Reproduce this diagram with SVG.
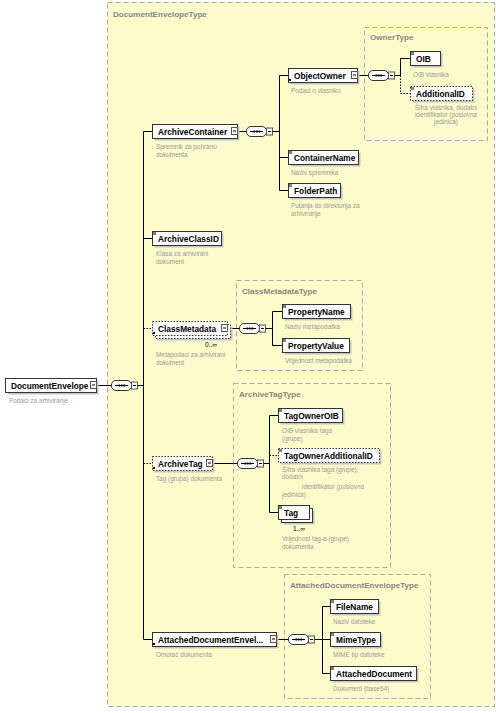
<svg xmlns="http://www.w3.org/2000/svg" xmlns:xlink="http://www.w3.org/1999/xlink" width="496" height="713" viewBox="0 0 496 713">
<style>
.type{fill:#fdfbca;stroke:#a8a8a8;stroke-width:1;stroke-dasharray:5,3}
.ttl{font-family:"Liberation Sans",Arial,sans-serif;font-weight:bold;font-size:8.1px;fill:#858585}
.box{fill:#fff;stroke:#333;stroke-width:1}
.opt{fill:#fff;stroke:#333;stroke-width:1;stroke-dasharray:1.5,1.5}
.sh{fill:#c4c4c4}
.lbl{font-family:"Liberation Sans",Arial,sans-serif;font-weight:bold;font-size:8.3px;fill:#000}
.dsc{font-family:"Liberation Sans",Arial,sans-serif;font-size:6.4px;fill:#9a9a9a}
.occ{font-family:"Liberation Sans",Arial,sans-serif;font-size:6.6px;fill:#000}
.ln{stroke:#000;stroke-width:1;fill:none}
.dl{stroke:#000;stroke-width:1;fill:none;stroke-dasharray:1.5,1.5}
.mk{fill:#808080}
.cm{fill:#000}
</style>
<defs>
<g id="minus"><rect x="0.5" y="0.5" width="6" height="7" fill="#fff" stroke="#555"/><line x1="2" y1="4" x2="5" y2="4" stroke="#000"/></g>
<g id="seq">
<rect x="0.5" y="-4.5" width="20" height="10" rx="4.5" fill="#fff" stroke="#333"/>
<line x1="4" y1="0.5" x2="17" y2="0.5" stroke="#000"/>
<rect x="7.5" y="-0.5" width="1.6" height="2" fill="#000"/><rect x="10" y="-0.5" width="1.6" height="2" fill="#000"/><rect x="12.5" y="-0.5" width="1.6" height="2" fill="#000"/>
<rect x="20.5" y="-3" width="6" height="7" fill="#fff" stroke="#555"/><line x1="22" y1="0.5" x2="25" y2="0.5" stroke="#000"/>
</g>
</defs>

<g id="DocumentEnvelopeType">
<rect class="type" x="107.5" y="2.5" width="387" height="704"/>
<text class="ttl" x="113" y="17">DocumentEnvelopeType</text>
</g>
<g id="OwnerType">
<rect class="type" x="364.5" y="27.5" width="123" height="113"/>
<text class="ttl" x="370" y="40">OwnerType</text>
</g>
<g id="ClassMetadataType">
<rect class="type" x="236.5" y="280.5" width="126" height="90"/>
<text class="ttl" x="242" y="294">ClassMetadataType</text>
</g>
<g id="ArchiveTagType">
<rect class="type" x="233.5" y="383.5" width="157" height="184"/>
<text class="ttl" x="239" y="397">ArchiveTagType</text>
</g>
<g id="AttachedDocumentEnvelopeType">
<rect class="type" x="284.5" y="574.5" width="146" height="124"/>
<text class="ttl" x="290" y="588">AttachedDocumentEnvelopeType</text>
</g>

<g id="connectors">
<line class="ln" x1="96.5" y1="385.5" x2="111.5" y2="385.5"/>
<use xlink:href="#seq" x="111" y="385"/>
<line class="ln" x1="137.5" y1="385.5" x2="143.5" y2="385.5"/>
<polyline class="ln" points="152.5,131.5 143.5,131.5 143.5,639.5 152.5,639.5"/>
<line class="ln" x1="143.5" y1="238.5" x2="152.5" y2="238.5"/>
<line class="dl" x1="143.5" y1="328.5" x2="152.5" y2="328.5"/>
<line class="dl" x1="143.5" y1="463.5" x2="152.5" y2="463.5"/>

<line class="ln" x1="237.5" y1="131.5" x2="246.5" y2="131.5"/>
<use xlink:href="#seq" x="246" y="131"/>
<line class="ln" x1="272.5" y1="131.5" x2="279.5" y2="131.5"/>
<polyline class="ln" points="288.5,75.5 279.5,75.5 279.5,190.5 288.5,190.5"/>
<line class="ln" x1="279.5" y1="157.5" x2="288.5" y2="157.5"/>

<line class="ln" x1="357.5" y1="75.5" x2="368.5" y2="75.5"/>
<use xlink:href="#seq" x="368" y="75"/>
<line class="ln" x1="394.5" y1="75.5" x2="400.5" y2="75.5"/>
<polyline class="ln" points="410.5,58.5 400.5,58.5 400.5,75.5"/>
<polyline class="dl" points="400.5,75.5 400.5,93.5 410.5,93.5"/>

<line class="ln" x1="227.5" y1="328.5" x2="239.5" y2="328.5"/>
<use xlink:href="#seq" x="239" y="328"/>
<line class="ln" x1="265.5" y1="328.5" x2="272.5" y2="328.5"/>
<polyline class="ln" points="282.5,311.5 272.5,311.5 272.5,345.5 282.5,345.5"/>

<line class="ln" x1="212.5" y1="463.5" x2="237.5" y2="463.5"/>
<use xlink:href="#seq" x="237" y="463"/>
<line class="ln" x1="263.5" y1="463.5" x2="269.5" y2="463.5"/>
<polyline class="ln" points="278.5,415.5 269.5,415.5 269.5,512.5 278.5,512.5"/>
<line class="dl" x1="269.5" y1="455.5" x2="278.5" y2="455.5"/>

<line class="ln" x1="276.5" y1="639.5" x2="288.5" y2="639.5"/>
<use xlink:href="#seq" x="288" y="639"/>
<line class="ln" x1="314.5" y1="639.5" x2="322.5" y2="639.5"/>
<polyline class="ln" points="330.5,606.5 322.5,606.5 322.5,673.5 330.5,673.5"/>
<line class="ln" x1="322.5" y1="639.5" x2="330.5" y2="639.5"/>
</g>

<g id="DocumentEnvelope">
<rect class="sh" x="7.5" y="380.5" width="91" height="14"/>
<rect class="box" x="5.5" y="378.5" width="91" height="14"/>
<text class="lbl" x="11" y="389">DocumentEnvelope</text>
<use xlink:href="#minus" x="90" y="381"/>
<text class="dsc" x="9" y="403">Podaci za arhiviranje</text>
</g>

<g id="ArchiveContainer">
<rect class="sh" x="154.5" y="126.5" width="85" height="14"/>
<rect class="box" x="152.5" y="124.5" width="85" height="14"/>
<text class="lbl" x="158" y="135">ArchiveContainer</text>
<use xlink:href="#minus" x="231" y="127"/>
<text class="dsc" x="156" y="149">Spremnik za pohranu</text>
<text class="dsc" x="156" y="157">dokumenta</text>
</g>

<g id="ObjectOwner">
<rect class="sh" x="290.5" y="70.5" width="69" height="14"/>
<rect class="box" x="288.5" y="68.5" width="69" height="14"/>
<rect class="cm" x="289" y="79" width="2" height="2"/>
<text class="lbl" x="294" y="79">ObjectOwner</text>
<use xlink:href="#minus" x="351" y="71"/>
<text class="dsc" x="291" y="93">Podaci o vlasniku</text>
</g>

<g id="OIB">
<rect class="sh" x="412.5" y="53.5" width="30" height="14"/>
<rect class="box" x="410.5" y="51.5" width="30" height="14"/>
<rect class="mk" x="411" y="52" width="3" height="3"/>
<text class="lbl" x="416" y="62">OIB</text>
<text class="dsc" x="413" y="77">OIB vlasnika</text>
</g>

<g id="AdditionalID">
<rect class="sh" x="412.5" y="88.5" width="62" height="14"/>
<rect class="opt" x="410.5" y="86.5" width="62" height="14"/>
<rect class="mk" x="411" y="87" width="3" height="3"/>
<text class="lbl" x="416" y="97">AdditionalID</text>
<text class="dsc" x="446" y="110" text-anchor="middle">Šifra vlasnika, dodatni</text>
<text class="dsc" x="446" y="117" text-anchor="middle">identifikator (poslovna</text>
<text class="dsc" x="446" y="124" text-anchor="middle">jedinica)</text>
</g>

<g id="ContainerName">
<rect class="sh" x="290.5" y="152.5" width="70" height="14"/>
<rect class="box" x="288.5" y="150.5" width="70" height="14"/>
<rect class="mk" x="289" y="151" width="3" height="3"/>
<text class="lbl" x="294" y="161">ContainerName</text>
<text class="dsc" x="291" y="175">Naziv spremnika</text>
</g>

<g id="FolderPath">
<rect class="sh" x="290.5" y="185.5" width="52" height="14"/>
<rect class="box" x="288.5" y="183.5" width="52" height="14"/>
<rect class="mk" x="289" y="184" width="3" height="3"/>
<text class="lbl" x="294" y="194">FolderPath</text>
<text class="dsc" x="291" y="208">Putanja do direktorija za</text>
<text class="dsc" x="291" y="216">arhiviranje</text>
</g>

<g id="ArchiveClassID">
<rect class="sh" x="154.5" y="233.5" width="69" height="14"/>
<rect class="box" x="152.5" y="231.5" width="69" height="14"/>
<rect class="mk" x="153" y="232" width="3" height="3"/>
<text class="lbl" x="158" y="242">ArchiveClassID</text>
<text class="dsc" x="156" y="256">Klasa za arhivirani</text>
<text class="dsc" x="156" y="264">dokument</text>
</g>

<g id="ClassMetadata">
<rect class="sh" x="157.5" y="326.5" width="75" height="14"/>
<rect class="opt" x="155.5" y="324.5" width="75" height="14"/>
<rect class="opt" x="152.5" y="321.5" width="75" height="14"/>
<rect class="cm" x="153" y="332" width="2" height="2"/>
<text class="lbl" x="158" y="332">ClassMetadata</text>
<use xlink:href="#minus" x="221" y="324"/>
<text class="occ" x="205" y="347">0..∞</text>
<text class="dsc" x="156" y="357">Metapodaci za arhivirani</text>
<text class="dsc" x="156" y="365">dokument</text>
</g>

<g id="PropertyName">
<rect class="sh" x="284.5" y="306.5" width="68" height="14"/>
<rect class="box" x="282.5" y="304.5" width="68" height="14"/>
<rect class="mk" x="283" y="305" width="3" height="3"/>
<text class="lbl" x="288" y="315">PropertyName</text>
<text class="dsc" x="285" y="329">Naziv metapodatka</text>
</g>

<g id="PropertyValue">
<rect class="sh" x="284.5" y="340.5" width="67" height="14"/>
<rect class="box" x="282.5" y="338.5" width="67" height="14"/>
<rect class="mk" x="283" y="339" width="3" height="3"/>
<text class="lbl" x="288" y="349">PropertyValue</text>
<text class="dsc" x="285" y="363">Vrijednost metapodatka</text>
</g>

<g id="ArchiveTag">
<rect class="sh" x="154.5" y="458.5" width="60" height="14"/>
<rect class="opt" x="152.5" y="456.5" width="60" height="14"/>
<rect class="cm" x="153" y="467" width="2" height="2"/>
<text class="lbl" x="158" y="467">ArchiveTag</text>
<use xlink:href="#minus" x="206" y="459"/>
<text class="dsc" x="156" y="481">Tag (grupa) dokumenta</text>
</g>

<g id="TagOwnerOIB">
<rect class="sh" x="280.5" y="410.5" width="64" height="14"/>
<rect class="box" x="278.5" y="408.5" width="64" height="14"/>
<rect class="mk" x="279" y="409" width="3" height="3"/>
<text class="lbl" x="284" y="419">TagOwnerOIB</text>
<text class="dsc" x="282" y="433">OIB vlasnika taga</text>
<text class="dsc" x="282" y="441">(grupe)</text>
</g>

<g id="TagOwnerAdditionalID">
<rect class="sh" x="280.5" y="450.5" width="101" height="14"/>
<rect class="opt" x="278.5" y="448.5" width="101" height="14"/>
<rect class="mk" x="279" y="449" width="3" height="3"/>
<text class="lbl" x="284" y="459">TagOwnerAdditionalID</text>
<text class="dsc" x="282" y="472">Šifra vlasnika taga (grupe),</text>
<text class="dsc" x="282" y="479">dodatni</text>
<text class="dsc" x="302" y="489">identifikator (poslovna</text>
<text class="dsc" x="282" y="497">jedinica)</text>
</g>

<g id="Tag">
<rect class="sh" x="283.5" y="510.5" width="31" height="14"/>
<rect class="box" x="281.5" y="508.5" width="31" height="14"/>
<rect class="box" x="278.5" y="505.5" width="31" height="14"/>
<rect class="mk" x="279" y="506" width="3" height="3"/>
<text class="lbl" x="284" y="516">Tag</text>
<text class="occ" x="293" y="531">1..∞</text>
<text class="dsc" x="282" y="541">Vrijednost tag-a (grupe)</text>
<text class="dsc" x="282" y="549">dokumenta</text>
</g>

<g id="AttachedDocumentEnvelope">
<rect class="sh" x="154.5" y="634.5" width="124" height="14"/>
<rect class="box" x="152.5" y="632.5" width="124" height="14"/>
<rect class="cm" x="153" y="643" width="2" height="2"/>
<text class="lbl" x="158" y="643">AttachedDocumentEnvel...</text>
<use xlink:href="#minus" x="270" y="635"/>
<text class="dsc" x="156" y="657">Omotač dokumenta</text>
</g>

<g id="FileName">
<rect class="sh" x="332.5" y="601.5" width="48" height="14"/>
<rect class="box" x="330.5" y="599.5" width="48" height="14"/>
<rect class="mk" x="331" y="600" width="3" height="3"/>
<text class="lbl" x="336" y="610">FileName</text>
<text class="dsc" x="333" y="624">Naziv datoteke</text>
</g>

<g id="MimeType">
<rect class="sh" x="332.5" y="634.5" width="50" height="14"/>
<rect class="box" x="330.5" y="632.5" width="50" height="14"/>
<rect class="mk" x="331" y="633" width="3" height="3"/>
<text class="lbl" x="336" y="643">MimeType</text>
<text class="dsc" x="333" y="657">MIME tip datoteke</text>
</g>

<g id="AttachedDocument">
<rect class="sh" x="332.5" y="668.5" width="86" height="14"/>
<rect class="box" x="330.5" y="666.5" width="86" height="14"/>
<rect class="mk" x="331" y="667" width="3" height="3"/>
<text class="lbl" x="336" y="677">AttachedDocument</text>
<text class="dsc" x="333" y="691">Dokument (base64)</text>
</g>
</svg>
